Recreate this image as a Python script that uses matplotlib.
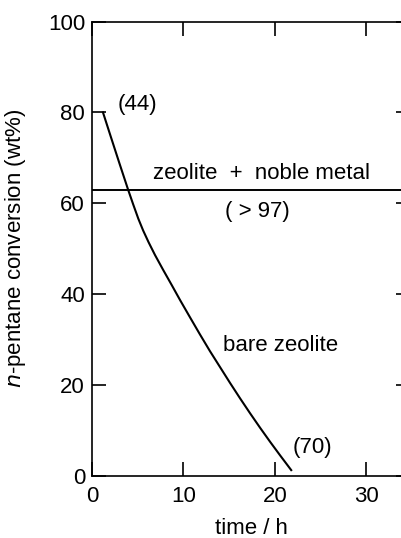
import matplotlib
matplotlib.use("Agg")
import matplotlib.pyplot as plt

plt.rcParams['font.family'] = ['Liberation Sans', 'DejaVu Sans']

# bare zeolite curve
time_h = [1.2, 2.0, 3.0, 3.95, 4.5, 5.07, 5.6, 6.2, 6.9, 7.8, 8.7, 9.64,
          10.7, 11.8, 12.9, 14.0, 15.1, 16.2, 17.3, 18.4, 19.5, 20.6, 21.8]
conversion = [80, 75.0, 68.8, 63.0, 59.8, 56.6, 54.0, 51.4, 48.6, 45.3, 42.1, 38.7,
              35.0, 31.2, 27.5, 24.0, 20.5, 17.1, 13.8, 10.6, 7.5, 4.5, 1.3]

# zeolite + noble metal level
noble_level = 63

x_ticks = [0, 10, 20, 30]
y_ticks = [0, 20, 40, 60, 80, 100]

fs = 16

fig = plt.figure(figsize=(4.02, 5.38), dpi=100)
ax = fig.add_axes([0.2289, 0.1152, 0.791, 0.8448])

ax.plot(time_h, conversion, color="black", lw=1.5)
ax.axhline(noble_level, color="black", lw=1.4)

ax.set_xlim(0, 34.8)
ax.set_ylim(0, 100)
ax.set_xticks(x_ticks)
ax.set_yticks(y_ticks)
ax.tick_params(direction="in", length=10, width=1.2, labelsize=fs,
               top=True, right=True, pad=5)
ax.tick_params(axis="x", pad=7)
for s in ax.spines.values():
    s.set_linewidth(1.2)

ax.text(2.85, 81.8, "(44)", fontsize=fs, va="center", ha="left")
ax.text(18.5, 66.6, "zeolite  +  noble metal", fontsize=fs, va="center", ha="center")
ax.text(18.1, 58.2, "( > 97)", fontsize=fs, va="center", ha="center")
ax.text(20.6, 28.8, "bare zeolite", fontsize=fs, va="center", ha="center")
ax.text(24.1, 6.2, "(70)", fontsize=fs, va="center", ha="center")

ax.set_xlabel("time / h", fontsize=fs, labelpad=8)
ax.set_ylabel(r"$\it{n}$-pentane conversion (wt%)", fontsize=fs)
ax.yaxis.set_label_coords(-0.20, 0.5)

fig.savefig("out.png", dpi=100)
plt.close(fig)
